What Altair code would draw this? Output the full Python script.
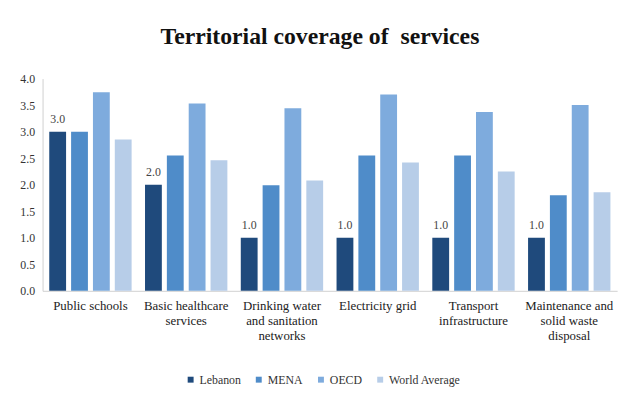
import altair as alt
import pandas as pd

categories = ["Public schools", "Basic healthcare|services", "Drinking water|and sanitation|networks",
              "Electricity grid", "Transport|infrastructure", "Maintenance and|solid waste|disposal"]
series = ["Lebanon", "MENA", "OECD", "World Average"]
lebanon = [3.0, 2.0, 1.0, 1.0, 1.0, 1.0]
mena = [3.0, 2.55, 1.99, 2.55, 2.55, 1.80]
oecd = [3.74, 3.53, 3.44, 3.70, 3.37, 3.50]
world = [2.85, 2.46, 2.08, 2.42, 2.25, 1.86]
yticks = [0, 0.5, 1, 1.5, 2, 2.5, 3, 3.5, 4]
colors = ["#1F4A7C", "#4F8CC9", "#7EABDD", "#B7CDE8"]

rows = []
for s, vals in zip(series, [lebanon, mena, oecd, world]):
    for c, v in zip(categories, vals):
        rows.append({"category": c, "series": s, "value": v})
df = pd.DataFrame(rows)

FONT = "'Liberation Serif', 'Times New Roman', Times, serif"

base = alt.Chart(df).encode(
    x=alt.X("category:N", sort=categories, title=None,
            scale=alt.Scale(paddingInner=0.14, paddingOuter=0.07),
            axis=alt.Axis(labelAngle=0, labelExpr="split(datum.label, '|')", ticks=False,
                          domainColor="#d0d0d0", labelFont=FONT, labelFontSize=13,
                          labelColor="#222222", labelPadding=9, labelLineHeight=15,
                          labelBaseline="top")),
    xOffset=alt.XOffset("series:N", sort=series, scale=alt.Scale(paddingInner=0.23)),
    y=alt.Y("value:Q", title=None, scale=alt.Scale(domain=[0, 4]),
            axis=alt.Axis(values=yticks, format=".1f", grid=False, labelFont=FONT,
                          ticks=False, domainColor="#d0d0d0", labelFontSize=12,
                          labelColor="#333333", labelPadding=8, labelOverlap=False)),
)

bars = base.mark_bar().encode(
    color=alt.Color("series:N", sort=series, scale=alt.Scale(domain=series, range=colors),
                    legend=alt.Legend(title=None, orient="none", direction="horizontal",
                                      legendX=144, legendY=299, symbolType="square",
                                      symbolSize=36, labelFontSize=12, labelFont=FONT,
                                      labelColor="#333333", columnPadding=12, symbolStrokeWidth=0,
                                      labelOffset=3)),
)

labels = base.transform_filter(alt.datum.series == "Lebanon").mark_text(
    font=FONT, fontSize=12, color="#444444", dy=-13
).encode(
    text=alt.Text("value:Q", format=".1f"),
)

chart = (bars + labels).properties(
    width=582, height=215,
    title=alt.TitleParams("Territorial coverage of\u00a0 services", fontSize=24, font=FONT,
                          fontWeight="bold", color="#111111", anchor="middle", offset=24, dx=-10),
    autosize=alt.AutoSizeParams(type="none"),
    padding={"left": 35, "top": 69, "right": 10, "bottom": 100},
).configure(font=FONT).configure_axis(labelFont=FONT).configure_legend(labelFont=FONT).configure_text(
    font=FONT).configure_view(stroke=None)

chart.save("out.html", embed_options={"renderer": "svg", "actions": False})
